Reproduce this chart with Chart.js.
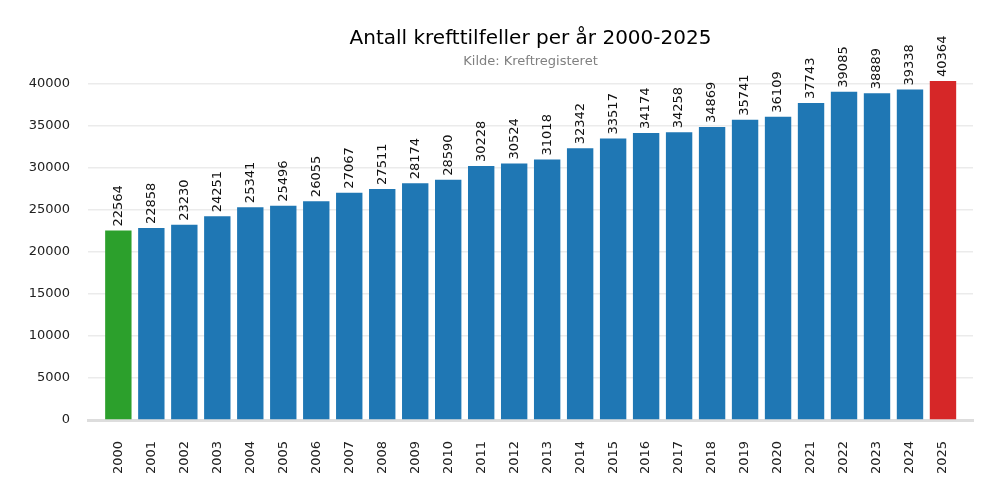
<!DOCTYPE html>
<html>
<head>
<meta charset="utf-8">
<script src="https://cdn.jsdelivr.net/npm/chart.js@4"></script>
<style>
  body { margin: 0; background: #fff; }
  canvas { display: block; }
</style>
</head>
<body>
<canvas id="chart" width="1000" height="500"></canvas>
<script>
const years = ["2000","2001","2002","2003","2004","2005","2006","2007","2008","2009","2010","2011","2012",
  "2013","2014","2015","2016","2017","2018","2019","2020","2021","2022","2023","2024","2025"];
const cases = [22564, 22858, 23230, 24251, 25341, 25496, 26055, 27067, 27511, 28174, 28590, 30228, 30524,
  31018, 32342, 33517, 34174, 34258, 34869, 35741, 36109, 37743, 39085, 38889, 39338, 40364];
const yTicks = [0, 5000, 10000, 15000, 20000, 25000, 30000, 35000, 40000];
const titleText = "Antall krefttilfeller per år 2000-2025";
const subtitleText = "Kilde: Kreftregisteret";

const barColors = cases.map((v, i) => {
  if (i === 0) return "#2ca02c";
  if (i === cases.length - 1) return "#d62728";
  return "#1f77b4";
});

// value labels above the bars + title over the plot area
const extras = {
  id: "extras",
  afterDatasetsDraw(chart) {
    const ctx = chart.ctx;
    const meta = chart.getDatasetMeta(0);
    ctx.save();
    ctx.font = "13px 'DejaVu Sans'";
    ctx.fillStyle = "#111";
    ctx.textAlign = "left";
    ctx.textBaseline = "middle";
    meta.data.forEach((bar, i) => {
      ctx.save();
      ctx.translate(bar.x, bar.y - 4);
      ctx.rotate(-Math.PI / 2);
      ctx.fillText(String(cases[i]), 0, 0);
      ctx.restore();
    });
    ctx.restore();
  },
  afterDraw(chart) {
    const ctx = chart.ctx;
    const area = chart.chartArea;
    const cx = (area.left + area.right) / 2;
    ctx.save();
    ctx.textAlign = "center";
    ctx.textBaseline = "middle";
    ctx.fillStyle = "#000";
    ctx.font = "20px 'DejaVu Sans'";
    ctx.fillText(titleText, cx, 39);
    ctx.fillStyle = "#808080";
    ctx.font = "13px 'DejaVu Sans'";
    ctx.fillText(subtitleText, cx, 62);
    ctx.restore();
  }
};

new Chart(document.getElementById("chart").getContext("2d"), {
  type: "bar",
  data: {
    datasets: [{
      data: cases.map((v, i) => ({ x: i, y: v })),
      backgroundColor: barColors,
      barPercentage: 0.8,
      categoryPercentage: 1.0
    }]
  },
  options: {
    responsive: false,
    animation: false,
    devicePixelRatio: 1,
    layout: { padding: { top: 60, right: 27, bottom: 0, left: 0 } },
    plugins: { legend: { display: false }, tooltip: { enabled: false } },
    scales: {
      x: {
        type: "linear",
        offset: false,
        min: -0.92,
        max: 25.91,
        afterBuildTicks: s => { s.ticks = years.map((y, i) => ({ value: i })); },
        afterFit: s => { s.height = 80; },
        grid: { display: false, drawTicks: false },
        border: { display: true, color: "#dddddd", width: 3 },
        ticks: {
          autoSkip: false,
          minRotation: 90,
          maxRotation: 90,
          padding: 21,
          color: "#222",
          font: { family: "DejaVu Sans", size: 13 },
          callback: v => years[v]
        }
      },
      y: {
        min: 0,
        max: 42857,
        afterBuildTicks: s => { s.ticks = yTicks.map(v => ({ value: v })); },
        afterFit: s => { s.width = 88; },
        grid: { color: "#ebebeb", lineWidth: 1.5, drawTicks: false },
        border: { display: false },
        ticks: {
          padding: 18,
          color: "#222",
          font: { family: "DejaVu Sans", size: 13 },
          callback: v => String(v)
        }
      }
    }
  },
  plugins: [extras]
});
</script>
</body>
</html>
